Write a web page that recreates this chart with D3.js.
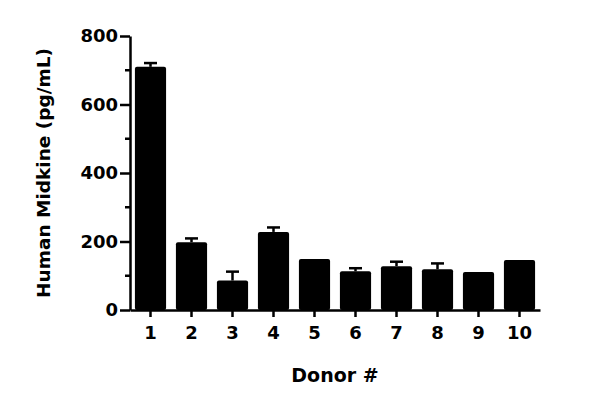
<!DOCTYPE html>
<html>
<head>
<meta charset="utf-8">
<script src="https://cdn.jsdelivr.net/npm/d3@7"></script>
<style>
  body { margin: 0; background: #fff; }
  svg text { font-family: "DejaVu Sans", sans-serif; font-weight: bold; fill: #000; }
</style>
</head>
<body>
<svg id="chart" width="600" height="406"></svg>
<script>
// donors on the x axis
var donors = ['1', '2', '3', '4', '5', '6', '7', '8', '9', '10'];
// mean Human Midkine (pg/mL) per donor
var means = [710, 198, 86, 228, 149, 113, 128, 119, 111, 146];
// top of the error bar (mean + SD); equal to the mean where the SD is too small to see
var errTops = [721, 209, 112, 241, 149, 122, 141, 136, 111, 146];
var yTicks = [0, 200, 400, 600, 800];
var yMinorTicks = [100, 300, 500, 700];

var margin = {top: 36, right: 60, bottom: 96, left: 130};
var svg = d3.select('#chart');
var width = +svg.attr('width') - margin.left - margin.right;
var height = +svg.attr('height') - margin.top - margin.bottom;

var g = svg.append('g')
  .attr('transform', 'translate(' + margin.left + ',' + margin.top + ')');

var x = d3.scaleBand().domain(donors).range([0, width]).paddingInner(0.24).paddingOuter(0.12);
var y = d3.scaleLinear().domain([0, 800]).range([height, 0]);

// bars
g.selectAll('rect.bar')
  .data(means)
  .enter().append('rect')
    .attr('class', 'bar')
    .attr('x', function(d, i) { return x(donors[i]); })
    .attr('y', function(d) { return y(d); })
    .attr('width', x.bandwidth())
    .attr('height', function(d) { return height - y(d); })
    .attr('rx', 2)
    .attr('fill', '#000');

// upper error bars, skipped when they would hide inside the bar top
var errData = errTops.map(function(d, i) { return {i: i, top: d}; })
  .filter(function(d) { return d.top > means[d.i]; });
var capW = 13;
var err = g.selectAll('g.err')
  .data(errData)
  .enter().append('g')
    .attr('class', 'err')
    .attr('stroke', '#000')
    .attr('stroke-width', 2.5);
err.append('line')
  .attr('x1', function(d) { return x(donors[d.i]) + x.bandwidth() / 2; })
  .attr('x2', function(d) { return x(donors[d.i]) + x.bandwidth() / 2; })
  .attr('y1', function(d) { return y(means[d.i]); })
  .attr('y2', function(d) { return y(d.top); });
err.append('line')
  .attr('x1', function(d) { return x(donors[d.i]) + x.bandwidth() / 2 - capW / 2; })
  .attr('x2', function(d) { return x(donors[d.i]) + x.bandwidth() / 2 + capW / 2; })
  .attr('y1', function(d) { return y(d.top); })
  .attr('y2', function(d) { return y(d.top); });

// y axis
var yAxis = g.append('g')
  .attr('class', 'y-axis')
  .call(d3.axisLeft(y).tickValues(yTicks).tickSize(10).tickPadding(2).tickSizeOuter(0));
yAxis.append('g').selectAll('line')
  .data(yMinorTicks)
  .enter().append('line')
    .attr('x1', -5).attr('x2', 0)
    .attr('y1', function(d) { return y(d); })
    .attr('y2', function(d) { return y(d); });

// x axis
var xAxis = g.append('g')
  .attr('class', 'x-axis')
  .attr('transform', 'translate(0,' + height + ')')
  .call(d3.axisBottom(x).tickSize(7).tickPadding(9).tickSizeOuter(0));

g.selectAll('.y-axis path, .x-axis path, .y-axis line, .x-axis line')
  .attr('stroke', '#000')
  .attr('stroke-width', 2.5);
g.selectAll('.y-axis text, .x-axis text')
  .attr('font-size', 18)
  .attr('font-family', '"DejaVu Sans", sans-serif')
  .attr('font-weight', 'bold')
  .attr('fill', '#000');

// axis titles
svg.append('text')
  .attr('x', margin.left + width / 2)
  .attr('y', 382)
  .attr('text-anchor', 'middle')
  .attr('font-size', 19)
  .text('Donor #');

svg.append('text')
  .attr('transform', 'translate(50,' + (margin.top + height / 2) + ') rotate(-90)')
  .attr('text-anchor', 'middle')
  .attr('font-size', 18.5)
  .text('Human Midkine (pg/mL)');
</script>
</body>
</html>
